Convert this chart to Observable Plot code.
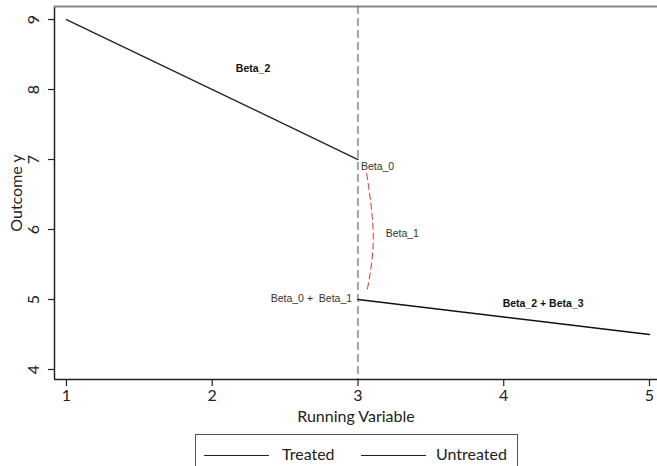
<!DOCTYPE html>
<html>
<head>
<meta charset="utf-8">
<script src="https://cdn.jsdelivr.net/npm/d3@7"></script>
<script src="https://cdn.jsdelivr.net/npm/@observablehq/plot@0.6"></script>
<style>
  html, body { margin: 0; padding: 0; background: #fff; width: 657px; height: 466px; overflow: hidden; }
  #chart { position: absolute; left: 0; top: 0; }
  #legend { position: absolute; left: 195px; top: 434px; width: 323px; height: 44px; border: 1px solid #555; box-sizing: border-box; font-family: Lato, "Open Sans", sans-serif; font-size: 16px; color: #222; }
  .lg-line { position: absolute; top: 20px; height: 0; border-top: 1.3px solid #222; }
  .lg-text { position: absolute; top: 9px; }
</style>
</head>
<body>
<div id="chart"></div>
<div id="legend">
  <div class="lg-line" style="left:8px;width:65px"></div>
  <div class="lg-text" style="left:86px" id="lg1"></div>
  <div class="lg-line" style="left:165px;width:65px"></div>
  <div class="lg-text" style="left:240px" id="lg2"></div>
</div>
<script>
// ---- data ----
const legendLabels = ["Treated", "Untreated"];
const treatedX = [1, 3];
const treatedY = [9, 7];
const untreatedX = [3, 5];
const untreatedY = [5, 4.5];
const cutoff = [3];
const arcX = [3.06, 3.105, 3.065];
const arcY = [6.8, 5.9, 5.15];
const xTicks = [1, 2, 3, 4, 5];
const yTicks = [4, 5, 6, 7, 8, 9];
const annoText = ["Beta_2", "Beta_0", "Beta_1", "Beta_0 +  Beta_1", "Beta_2 + Beta_3"];
const annoX = [2.28, 3.02, 3.19, 2.96, 4.27];
const annoY = [8.3, 6.9, 5.94, 5.01, 4.94];
const annoBold = [true, false, false, false, true];
const annoAnchor = ["middle", "start", "start", "end", "middle"];
const xDomain = [0.918, 5.055];
const yDomain = [3.857, 9.186];

document.getElementById("lg1").textContent = legendLabels[0];
document.getElementById("lg2").textContent = legendLabels[1];

const treated = treatedX.map((x, i) => ({x, y: treatedY[i]}));
const untreated = untreatedX.map((x, i) => ({x, y: untreatedY[i]}));
const arc = arcX.map((x, i) => ({x, y: arcY[i]}));
const annos = annoText.map((t, i) => ({t, x: annoX[i], y: annoY[i], bold: annoBold[i], anchor: annoAnchor[i]}));

const tickFont = "Lato, 'Open Sans', sans-serif";
const annoFont = "'Liberation Sans', Arial, sans-serif";
const fmt = d => String(d);

const chart = Plot.plot({
  width: 657,
  height: 428,
  marginLeft: 54,
  marginRight: 0,
  marginTop: 6,
  marginBottom: 49,
  style: {fontFamily: tickFont, fontSize: "16px", color: "#222", background: "white"},
  x: {domain: xDomain},
  y: {domain: yDomain},
  marks: [
    Plot.axisX({ticks: xTicks, tickFormat: fmt, tickSize: 7, tickPadding: 3, label: "Running Variable", labelAnchor: "center", labelArrow: false, labelOffset: 42, fontSize: 16, stroke: "#222", strokeWidth: 1.2}),
    Plot.axisY({ticks: yTicks, tickFormat: fmt, tickSize: 6, tickRotate: -90, tickPadding: 10, label: "Outcome y", labelAnchor: "center", labelArrow: false, labelOffset: 44, fontSize: 16, stroke: "#222", strokeWidth: 1.2}),
    Plot.ruleY([yDomain[0]], {stroke: "#222", strokeWidth: 1.5}),
    Plot.ruleX([xDomain[0]], {stroke: "#222", strokeWidth: 1.5}),
    Plot.ruleY([yDomain[1]], {stroke: "#888", strokeWidth: 2}),
    Plot.ruleX(cutoff, {stroke: "#777", strokeWidth: 1.3, strokeDasharray: "8,4"}),
    Plot.line(treated, {x: "x", y: "y", stroke: "#222", strokeWidth: 1.4}),
    Plot.line(untreated, {x: "x", y: "y", stroke: "#111", strokeWidth: 1.4}),
    Plot.line(arc, {x: "x", y: "y", curve: "natural", stroke: "#e0301e", strokeWidth: 1, strokeDasharray: "6,4"}),
    Plot.text(annos.filter(d => d.bold), {x: "x", y: "y", text: "t", textAnchor: "middle", fontFamily: annoFont, fontSize: 10.5, fontWeight: "bold", fill: "#111"}),
    Plot.text(annos.filter(d => !d.bold && d.anchor === "start"), {x: "x", y: "y", text: "t", textAnchor: "start", fontFamily: annoFont, fontSize: 10.5, fill: "#333"}),
    Plot.text(annos.filter(d => !d.bold && d.anchor === "end"), {x: "x", y: "y", text: "t", textAnchor: "end", fontFamily: annoFont, fontSize: 10.5, fill: "#333"})
  ]
});
document.getElementById("chart").appendChild(chart);
</script>
</body>
</html>
